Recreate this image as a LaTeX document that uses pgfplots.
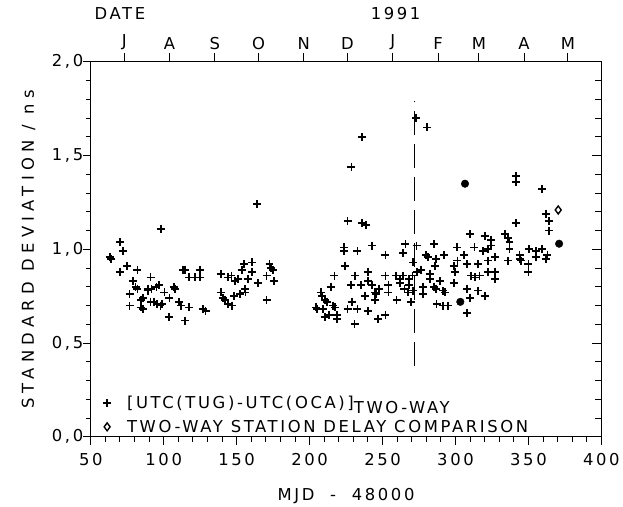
\documentclass[border=0pt]{standalone}
\usepackage{fontspec}
\setmainfont{DejaVu Sans}[LetterSpace=16]
\usepackage{pgfplots}
\pgfplotsset{compat=1.18}

% standard deviation of two-way time transfer, MJD - 48000
\pgfplotstableread{
x y
64 0.95
63 0.96
70 1.04
72 0.99
70 0.88
75 0.91
82 0.89
78.7 0.83
80.7 0.80
82 0.79
76.6 0.76
76.6 0.70
84.4 0.73
85.8 0.74
84.4 0.69
86 0.68
91 0.85
89 0.79
89 0.78
91.6 0.79
95 0.80
96.7 0.81
91 0.72
93.6 0.72
95.5 0.71
97.8 0.70
99 0.71
98.4 1.11
100.5 0.77
103.9 0.74
107 0.80
108 0.79
103.7 0.64
110.7 0.72
112 0.70
113.4 0.89
114.8 0.89
117.5 0.85
121.6 0.85
124.7 0.85
124.7 0.89
117.5 0.69
114.8 0.62
126.8 0.68
128.7 0.67
139 0.87
144 0.85
146.4 0.86
148.8 0.83
151 0.84
153.4 0.89
155 0.92
160.7 0.93
160.7 0.88
157.5 0.84
155.7 0.79
139 0.77
140.7 0.74
142 0.73
144.2 0.71
146.6 0.70
148.2 0.75
152.5 0.76
156 0.77
164.5 0.82
164 1.24
170.5 0.86
172.5 0.92
173.8 0.90
175 0.89
175.5 0.83
170.5 0.73
205 0.68
204.6 0.69
207.7 0.77
208.5 0.75
209 0.68
210.7 0.73
212 0.72
210.3 0.64
213.5 0.65
214.8 0.80
215.8 0.70
217 0.86
217.5 0.69
218.7 0.65
218.7 0.63
223.7 1.01
223.7 0.99
224.4 0.91
226 1.15
226 0.68
228.5 0.81
228.7 1.44
229 0.72
230.8 0.60
231 0.86
232.8 0.99
232.8 0.68
235 0.81
236 1.60
236 1.14
238.5 1.13
238 0.75
239.9 0.67
240 0.88
240 0.83
243 1.02
243 0.81
245 0.77
245 0.73
245.5 0.76
246.7 0.63
247.8 0.79
252 0.97
252 0.86
252 0.65
254 0.81
254 0.77
259 0.86
259.6 0.73
261.7 0.84
261.7 0.82
264.2 0.98
265.7 1.03
264.2 0.86
265 0.79
267.5 0.77
268 0.84
268 0.81
269.4 0.72
270.5 0.86
271 0.93
271 0.78
273.3 1.02
273 1.70
273.8 0.88
276.6 0.89
277.8 0.80
277.8 0.76
280 0.97
281 0.96
280.6 1.65
282.4 0.87
282.4 0.84
285.3 1.03
285.7 0.91
285.3 0.80
286.7 0.95
286.8 0.79
287 0.71
289.2 0.83
291.4 0.78
291.4 0.70
292 0.97
292.7 0.77
294.6 0.70
299 0.91
299.5 0.88
299 0.82
301 1.01
301.3 0.94
306 0.97
308 0.92
308 0.79
308 0.66
309.7 0.74
310 1.08
310.6 0.86
313 1.01
313.4 0.85
315.3 0.92
315.3 0.78
316.5 0.86
318.8 0.99
320 1.07
320 0.75
322.2 1.00
322.3 0.94
322.3 0.88
324.4 1.05
324.4 1.02
327 0.96
327 0.88
327 0.84
334 1.08
336.2 1.06
336 0.94
337 1.04
337 1.00
341.5 1.39
341.5 1.36
341.5 1.14
343.9 0.97
344 0.95
345 0.94
350.6 1.00
350 0.92
350 0.88
355 0.99
355 0.96
359.2 1.32
359.2 1.00
361.8 0.95
362 1.19
363 0.97
364.3 1.15
364.3 1.10
}\twoway

% overstruck (heavy) points
\pgfplotstableread{
x y
303.3 0.72
306.5 1.35
371 1.03
}\heavy

\pgfplotstableread{
x y
370.4 1.21
}\station

\begin{document}
\begin{tikzpicture}
\def\lblfont{\fontsize{16.5}{19}\selectfont}
\pgfplotsset{
  myframe/.style={
    at={(0,0)}, anchor=south west,
    scale only axis, width=512bp, height=376bp,
    xmin=50, xmax=400, ymin=0, ymax=2,
    clip=false,
    every tick/.style={black, line width=1pt},
    axis line style={line width=1pt},
    font=\lblfont,
    /pgf/number format/assume math mode=true,
  },
}
\begin{axis}[
  myframe,
  xtick={50,100,...,400}, minor x tick num=4,
  ytick={0,0.5,...,2}, minor y tick num=4,
  xtick pos=bottom, ytick pos=left, tick align=outside,
  major tick length=8bp, minor tick length=5bp,
  yticklabel style={xshift=4bp, /pgf/number format/.cd, use comma, fixed, fixed zerofill, precision=1},
  xticklabel style={yshift=-5bp},
  xlabel={MJD\ \ -\ \ 48000},
  ylabel={\addfontfeature{LetterSpace=32}STANDARD DEVIATION / ns},
  xlabel style={at={(axis description cs:0.5,-0.157)}, anchor=center},
  ylabel style={at={(axis description cs:-0.122,0.5)}, anchor=center},
  legend cell align=left,
  legend style={at={(axis description cs:0.018,0.0)}, anchor=south west,
    draw=none, fill=none, font=\lblfont,
    row sep=8bp, nodes={inner xsep=3bp, inner ysep=1bp},
    /tikz/every odd column/.append style={column sep=13bp}},
]
\addplot[only marks, mark=+, mark size=4bp, mark options={line width=1.8pt}] table {\twoway};
\addlegendentry{[UTC(TUG)-UTC(OCA)]\raisebox{-0.55ex}[\height][0pt]{TWO-WAY}}
\addplot[only marks, mark=diamond, mark size=4bp, mark options={line width=1.4pt}] table {\station};
\addlegendentry{TWO-WAY STATION DELAY COMPARISON}
\addplot[only marks, mark=*, mark size=3.8bp, forget plot] table {\heavy};
\draw[line width=1.4pt, dash pattern=on 24bp off 9bp] (axis cs:272,0.38) -- (axis cs:272,1.79);
\end{axis}

% top date axis
\begin{axis}[
  myframe,
  axis x line*=top, axis y line=none,
  xtick={73,104,135,165,196,226,257,288,316,347,377},
  xticklabels={J,A,S,O,N,D,J,F,M,A,M},
  tick align=outside, major tick length=9bp,
]
\node[font=\lblfont] at (rel axis cs:0.057,1) [yshift=48bp] {DATE};
\node[font=\lblfont] at (rel axis cs:0.597,1) [yshift=48bp] {1991};
\end{axis}

% inner ticks on the right side
\begin{axis}[
  myframe,
  axis y line*=right, axis x line=none,
  ytick={0,0.5,...,2}, minor y tick num=4, yticklabels={},
  tick align=inside, major tick length=9bp, minor tick length=6bp,
]
\end{axis}

\path[use as bounding box] (-91bp,-69bp) rectangle (532bp,438bp);
\end{tikzpicture}
\end{document}
